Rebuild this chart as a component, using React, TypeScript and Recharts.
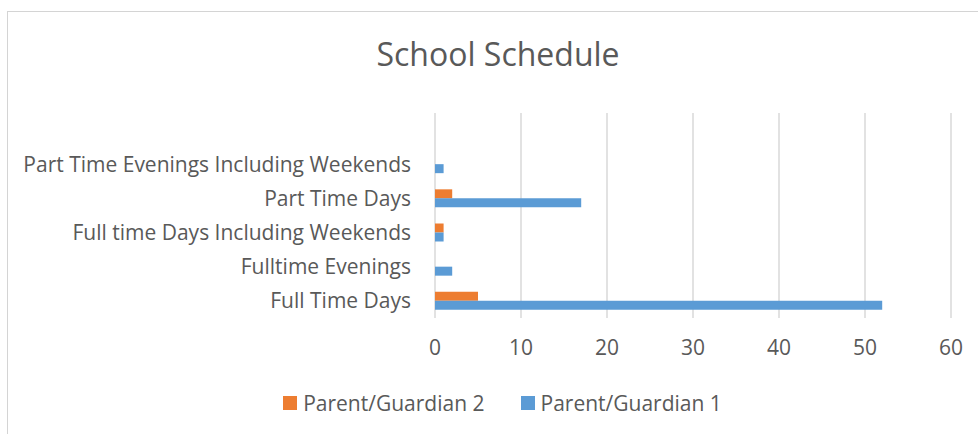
import { BarChart, Bar, XAxis, YAxis, CartesianGrid, Legend } from 'recharts';

const categories = [
  '',
  'Part Time Evenings Including Weekends',
  'Part Time Days',
  'Full time Days Including Weekends',
  'Fulltime Evenings',
  'Full Time Days',
];
const guardian2 = [null, 0, 2, 1, 0, 5];
const guardian1 = [null, 1, 17, 1, 2, 52];
const xTicks = [0, 10, 20, 30, 40, 50, 60];

const ORANGE = '#ED7D31';
const BLUE = '#5B9BD5';
const TEXT = '#595959';
const FONT = '"Open Sans", Lato, sans-serif';

const data = categories.map((name, i) => ({
  name,
  g2: guardian2[i],
  g1: guardian1[i],
}));

const legendItems = [
  { label: 'Parent/Guardian 2', color: ORANGE },
  { label: 'Parent/Guardian 1', color: BLUE },
];

function ChartLegend() {
  return (
    <div style={{ height: 24, display: 'flex', justifyContent: 'center', alignItems: 'center', gap: 36, fontFamily: FONT, fontSize: 21, color: TEXT }}>
      {legendItems.map(item => (
        <div key={item.label} style={{ display: 'flex', alignItems: 'center' }}>
          <span style={{ width: 14, height: 14, background: item.color, marginRight: 6, display: 'inline-block' }} />
          {item.label}
        </div>
      ))}
    </div>
  );
}

export default function App() {
  return (
    <div style={{ position: 'absolute', left: 0, top: 0, width: 978, height: 434, background: '#fff', overflow: 'hidden' }}>
      <div style={{ position: 'absolute', left: 7, top: 11, width: 1000, height: 500, border: '1px solid #d4d4d4' }} />
      <div style={{ position: 'absolute', left: 0, top: 34, width: 996, textAlign: 'center', fontFamily: FONT, fontSize: 32, lineHeight: '40px', color: TEXT }}>
        School Schedule
      </div>
      <div style={{ position: 'absolute', left: 0, top: 0 }}>
        <BarChart
          width={978}
          height={434}
          data={data}
          layout="vertical"
          margin={{ top: 113, right: 27, left: 5, bottom: 19 }}
          barGap={0}
          barSize={9}
        >
          <CartesianGrid horizontal={false} stroke="#d9d9d9" strokeWidth={1.5} />
          <XAxis
            type="number"
            domain={[0, 60]}
            ticks={xTicks}
            axisLine={false}
            tickLine={false}
            tickSize={0}
            tickMargin={22}
            height={73}
            tick={{ fill: TEXT, fontSize: 21, fontFamily: FONT }}
          />
          <YAxis
            type="category"
            dataKey="name"
            width={430}
            axisLine={false}
            tickLine={false}
            tickSize={0}
            tickMargin={24}
            interval={0}
            tick={{ fill: TEXT, fontSize: 21, fontFamily: FONT }}
          />
          <Legend verticalAlign="bottom" wrapperStyle={{ left: 0, width: 1005 }} content={() => <ChartLegend />} />
          <Bar dataKey="g2" name="Parent/Guardian 2" fill={ORANGE} isAnimationActive={false} />
          <Bar dataKey="g1" name="Parent/Guardian 1" fill={BLUE} isAnimationActive={false} />
        </BarChart>
      </div>
    </div>
  );
}
